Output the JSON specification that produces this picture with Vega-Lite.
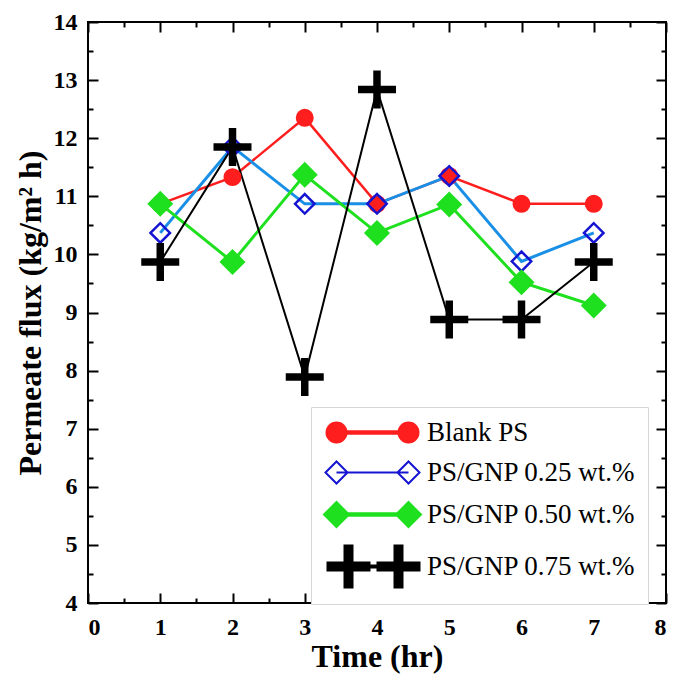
{
  "$schema": "https://vega.github.io/schema/vega-lite/v6.json",
  "width": 578,
  "height": 581,
  "autosize": "none",
  "padding": {"left": 88, "top": 22, "right": 7, "bottom": 74},
  "background": "white",
  "config": {
    "view": {"stroke": "black", "strokeWidth": 2},
    "axis": {"grid": false, "domain": false, "tickColor": "black", "tickWidth": 2, "labelColor": "black", "titleColor": "black", "labelFont": "Liberation Serif", "titleFont": "Liberation Serif", "labelFontWeight": "bold", "titleFontWeight": "bold", "labelFontSize": 24, "titleFontSize": 32}
  },
  "data": {"values": [
    {"series": "Blank PS", "time": 1, "flux": 10.87},
    {"series": "Blank PS", "time": 2, "flux": 11.33},
    {"series": "Blank PS", "time": 3, "flux": 12.35},
    {"series": "Blank PS", "time": 4, "flux": 10.87},
    {"series": "Blank PS", "time": 5, "flux": 11.35},
    {"series": "Blank PS", "time": 6, "flux": 10.87},
    {"series": "Blank PS", "time": 7, "flux": 10.87},
    {"series": "PS/GNP 0.25 wt.%", "time": 1, "flux": 10.37},
    {"series": "PS/GNP 0.25 wt.%", "time": 2, "flux": 11.85},
    {"series": "PS/GNP 0.25 wt.%", "time": 3, "flux": 10.87},
    {"series": "PS/GNP 0.25 wt.%", "time": 4, "flux": 10.87},
    {"series": "PS/GNP 0.25 wt.%", "time": 5, "flux": 11.35},
    {"series": "PS/GNP 0.25 wt.%", "time": 6, "flux": 9.88},
    {"series": "PS/GNP 0.25 wt.%", "time": 7, "flux": 10.37},
    {"series": "PS/GNP 0.50 wt.%", "time": 1, "flux": 10.87},
    {"series": "PS/GNP 0.50 wt.%", "time": 2, "flux": 9.87},
    {"series": "PS/GNP 0.50 wt.%", "time": 3, "flux": 11.37},
    {"series": "PS/GNP 0.50 wt.%", "time": 4, "flux": 10.37},
    {"series": "PS/GNP 0.50 wt.%", "time": 5, "flux": 10.86},
    {"series": "PS/GNP 0.50 wt.%", "time": 6, "flux": 9.52},
    {"series": "PS/GNP 0.50 wt.%", "time": 7, "flux": 9.12},
    {"series": "PS/GNP 0.75 wt.%", "time": 1, "flux": 9.87},
    {"series": "PS/GNP 0.75 wt.%", "time": 2, "flux": 11.85},
    {"series": "PS/GNP 0.75 wt.%", "time": 3, "flux": 7.89},
    {"series": "PS/GNP 0.75 wt.%", "time": 4, "flux": 12.84},
    {"series": "PS/GNP 0.75 wt.%", "time": 5, "flux": 8.88},
    {"series": "PS/GNP 0.75 wt.%", "time": 6, "flux": 8.88},
    {"series": "PS/GNP 0.75 wt.%", "time": 7, "flux": 9.87}
  ]},
  "resolve": {"axis": {"x": "independent", "y": "independent"}},
  "layer": [
    {
      "mark": {"type": "point", "opacity": 0},
      "encoding": {
        "x": {"field": "time", "type": "quantitative", "scale": {"domain": [0, 8], "nice": false, "zero": false},
          "axis": {"orient": "bottom", "values": [0.5,1.5,2.5,3.5,4.5,5.5,6.5,7.5], "labels": false, "tickSize": -5, "title": null}},
        "y": {"field": "flux", "type": "quantitative", "scale": {"domain": [4, 14], "nice": false, "zero": false},
          "axis": {"orient": "left", "values": [4.5,5.5,6.5,7.5,8.5,9.5,10.5,11.5,12.5,13.5], "labels": false, "tickSize": -5, "title": null}}
      }
    },
    {
      "mark": {"type": "point", "opacity": 0},
      "encoding": {
        "x": {"field": "time", "type": "quantitative",
          "axis": {"orient": "top", "values": [0.5,1.5,2.5,3.5,4.5,5.5,6.5,7.5], "labels": false, "tickSize": -5, "title": null}},
        "y": {"field": "flux", "type": "quantitative",
          "axis": {"orient": "right", "values": [4.5,5.5,6.5,7.5,8.5,9.5,10.5,11.5,12.5,13.5], "labels": false, "tickSize": -5, "title": null}}
      }
    },
    {
      "mark": {"type": "point", "opacity": 0},
      "encoding": {
        "x": {"field": "time", "type": "quantitative",
          "axis": {"orient": "top", "values": [0,1,2,3,4,5,6,7,8], "labels": false, "tickSize": -10, "title": null}},
        "y": {"field": "flux", "type": "quantitative",
          "axis": {"orient": "right", "values": [4,5,6,7,8,9,10,11,12,13,14], "labels": false, "tickSize": -10, "title": null}}
      }
    },
    {
      "mark": {"type": "line"},
      "encoding": {
        "x": {"field": "time", "type": "quantitative",
          "axis": {"orient": "bottom", "values": [0,1,2,3,4,5,6,7,8], "tickSize": -10, "labelPadding": 22, "title": "Time (hr)", "titlePadding": 2}},
        "y": {"field": "flux", "type": "quantitative",
          "axis": {"orient": "left", "values": [4,5,6,7,8,9,10,11,12,13,14], "tickSize": -10, "labelPadding": 21, "title": "Permeate flux (kg/m² h)", "titlePadding": 6}},
        "detail": {"field": "series"},
        "color": {"field": "series", "type": "nominal", "legend": null,
          "scale": {"domain": ["PS/GNP 0.75 wt.%", "PS/GNP 0.50 wt.%", "PS/GNP 0.25 wt.%", "Blank PS"], "range": ["#000000", "#1ee01e", "#1a8fe6", "#ff1e1e"]}},
        "strokeWidth": {"field": "series", "type": "nominal", "legend": null,
          "scale": {"type": "ordinal", "domain": ["PS/GNP 0.75 wt.%", "PS/GNP 0.50 wt.%", "PS/GNP 0.25 wt.%", "Blank PS"], "range": [2, 3, 3, 2.5]}}
      }
    },
    {
      "mark": {"type": "point", "filled": false, "opacity": 1, "strokeWidth": 2.5},
      "encoding": {
        "x": {"field": "time", "type": "quantitative", "axis": null},
        "y": {"field": "flux", "type": "quantitative", "axis": null},
        "shape": {"field": "series", "type": "nominal", "legend": null,
          "scale": {"domain": ["PS/GNP 0.75 wt.%", "PS/GNP 0.50 wt.%", "PS/GNP 0.25 wt.%", "Blank PS"], "range": ["M-1,-0.14H-0.14V-1H0.14V-0.14H1V0.14H0.14V1H-0.14V0.14H-1Z", "diamond", "diamond", "circle"]}},
        "fill": {"field": "series", "type": "nominal",
          "scale": {"domain": ["Blank PS", "PS/GNP 0.25 wt.%", "PS/GNP 0.50 wt.%", "PS/GNP 0.75 wt.%"], "range": ["#ff1e1e", "transparent", "#1ee01e", "#000000"]},
          "legend": {
            "title": null, "orient": "none", "legendX": 223, "legendY": 385,
            "padding": 12, "rowPadding": 10, "labelOffset": 77, "labelLimit": 400,
            "labelFont": "Liberation Serif", "labelFontSize": 27, "labelFontWeight": "normal", "labelColor": "black",
            "strokeColor": "#d6d6d6", "fillColor": "white", "symbolSize": 400, "symbolStrokeWidth": 2,
            "encode": {"symbols": {
              "size": {"value": 400},
              "shape": {"value": {"expr": "datum.value === 'Blank PS' ? 'M-1,0A1,1,0,1,0,1,0A1,1,0,1,0,-1,0Z M6.2,0A1,1,0,1,0,8.2,0A1,1,0,1,0,6.2,0Z M1,-0.12H6.2V0.12H1Z' : datum.value === 'PS/GNP 0.25 wt.%' ? 'M-1.1,0L0,-1.1L1.1,0L0,1.1Z M6.1,0L7.2,-1.1L8.3,0L7.2,1.1Z M0,0L7.2,0' : datum.value === 'PS/GNP 0.50 wt.%' ? 'M-1.25,0L0,-1.25L1.25,0L0,1.25Z M5.95,0L7.2,-1.25L8.45,0L7.2,1.25Z M1.25,-0.13H5.95V0.13H1.25Z' : 'M-0.9,-0.4H0.8V-2.1H1.6V-0.4H3.3V0.4H1.6V2.1H0.8V0.4H-0.9Z M4.1,-0.4H5.8V-2.1H6.6V-0.4H8.3V0.4H6.6V2.1H5.8V0.4H4.1Z M3.3,-0.1H4.1V0.1H3.3Z'"}},
              "fill": {"value": {"expr": "datum.value === 'Blank PS' ? '#ff1e1e' : datum.value === 'PS/GNP 0.25 wt.%' ? 'transparent' : datum.value === 'PS/GNP 0.50 wt.%' ? '#1ee01e' : '#000000'"}},
              "stroke": {"value": {"expr": "datum.value === 'Blank PS' ? '#ff1e1e' : datum.value === 'PS/GNP 0.25 wt.%' ? '#1414d2' : datum.value === 'PS/GNP 0.50 wt.%' ? '#1ee01e' : '#000000'"}},
              "opacity": {"value": 1}
            }},
            "encoding": {"symbols": {
              "size": {"value": 400},
              "shape": {"value": {"expr": "datum.value === 'Blank PS' ? 'M-1,0A1,1,0,1,0,1,0A1,1,0,1,0,-1,0Z M6.2,0A1,1,0,1,0,8.2,0A1,1,0,1,0,6.2,0Z M1,-0.12H6.2V0.12H1Z' : datum.value === 'PS/GNP 0.25 wt.%' ? 'M-1.1,0L0,-1.1L1.1,0L0,1.1Z M6.1,0L7.2,-1.1L8.3,0L7.2,1.1Z M0,0L7.2,0' : datum.value === 'PS/GNP 0.50 wt.%' ? 'M-1.25,0L0,-1.25L1.25,0L0,1.25Z M5.95,0L7.2,-1.25L8.45,0L7.2,1.25Z M1.25,-0.13H5.95V0.13H1.25Z' : 'M-0.9,-0.4H0.8V-2.1H1.6V-0.4H3.3V0.4H1.6V2.1H0.8V0.4H-0.9Z M4.1,-0.4H5.8V-2.1H6.6V-0.4H8.3V0.4H6.6V2.1H5.8V0.4H4.1Z M3.3,-0.1H4.1V0.1H3.3Z'"}},
              "fill": {"value": {"expr": "datum.value === 'Blank PS' ? '#ff1e1e' : datum.value === 'PS/GNP 0.25 wt.%' ? 'transparent' : datum.value === 'PS/GNP 0.50 wt.%' ? '#1ee01e' : '#000000'"}},
              "stroke": {"value": {"expr": "datum.value === 'Blank PS' ? '#ff1e1e' : datum.value === 'PS/GNP 0.25 wt.%' ? '#1414d2' : datum.value === 'PS/GNP 0.50 wt.%' ? '#1ee01e' : '#000000'"}},
              "opacity": {"value": 1}
            }}
          }},
        "stroke": {"field": "series", "type": "nominal", "legend": null,
          "scale": {"domain": ["PS/GNP 0.75 wt.%", "PS/GNP 0.50 wt.%", "PS/GNP 0.25 wt.%", "Blank PS"], "range": ["#000000", "#1ee01e", "#1414d2", "#ff1e1e"]}},
        "size": {"field": "series", "type": "nominal", "legend": null,
          "scale": {"type": "ordinal", "domain": ["PS/GNP 0.75 wt.%", "PS/GNP 0.50 wt.%", "PS/GNP 0.25 wt.%", "Blank PS"], "range": [1260, 506, 380, 240]}}
      }
    }
  ]
}
